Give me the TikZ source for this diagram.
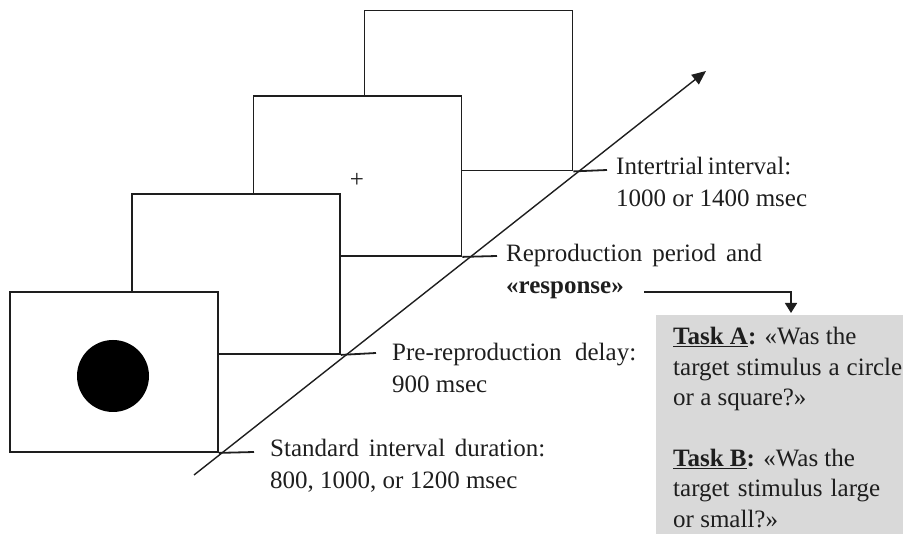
\documentclass[tikz,border=0pt]{standalone}
\usepackage{fontspec}
\setmainfont{Liberation Serif}
\usetikzlibrary{arrows.meta}
\definecolor{boxgray}{RGB}{217,217,217}
\definecolor{ink}{RGB}{30,30,30}
\begin{document}
\begin{tikzpicture}[x=1pt,y=-1pt,
  screen/.style={draw=ink, line width=1.8pt, fill=white, inner sep=0pt,
    minimum width=208pt, minimum height=160pt},
  link/.style={draw=ink, line width=1.8pt},
  lab/.style={anchor=base west, inner sep=0pt, text=ink,
    font=\fontsize{25}{32}\selectfont},
  boxlab/.style={anchor=base west, inner sep=0pt, text=ink,
    font=\fontsize{25}{30.4}\selectfont}]
\useasboundingbox (0,0) rectangle (903,534);
\clip (0,0) rectangle (903,534);

% grey answer box
\node[fill=boxgray, anchor=north west, inner sep=0pt,
  minimum width=260pt, minimum height=230pt] (box) at (656,315) {};

% screens, back to front
\node[screen] (f4) at (468.5,90.5) {};
\coordinate (e4) at (607,170);
\draw[link] (f4.south east) -- (e4);

\node[screen] (f3) at (357.5,176) {};
\coordinate (e3) at (497,256);
\draw[link] (f3.south east) -- (e3);
\node[inner sep=0pt, text=ink, font=\fontsize{25}{30}\selectfont] (plus) at (357,180) {+};

\node[screen] (f2) at (236,274) {};
\coordinate (e2) at (376,353);
\draw[link] (f2.south east) -- (e2);

\node[screen] (f1) at (114,372) {};
\coordinate (e1) at (254,452);
\draw[link] (f1.south east) -- (e1);
\node[circle, fill=black, inner sep=0pt, minimum size=72pt] (dot) at (113,376) {};

% time axis
\coordinate (a0) at (194,475);
\coordinate (a1) at (706,71);
\draw[ink, line width=1.4pt, -{Triangle[length=14pt,width=12pt]}] (a0) -- (a1);

% labels
\node[lab] (lit) at (616,175) {\begin{tabular}[t]{@{}l@{}}\makebox[175pt][s]{Intertrial interval:}\\ 1000 or 1400 msec\end{tabular}};
\node[lab] (lrep) at (506,262) {\begin{tabular}[t]{@{}l@{}}\makebox[256pt][s]{Reproduction period and}\\ \textbf{«response»}\end{tabular}};
\node[lab] (lpre) at (392,361) {\begin{tabular}[t]{@{}l@{}}\makebox[244pt][s]{Pre-reproduction delay:}\\ 900 msec\end{tabular}};
\node[lab] (lstd) at (270,457) {\begin{tabular}[t]{@{}l@{}}\makebox[275pt][s]{Standard interval duration:}\\ 800, 1000, or 1200 msec\end{tabular}};

% response connector
\coordinate (r0) at (644,292);
\coordinate (r1) at (791,313);
\draw[ink, line width=1.6pt, -{Triangle[length=10pt,width=12pt]}] (r0) -| (r1);

% box text
\node[boxlab] (tasks) at (673,345) {\begin{tabular}[t]{@{}l@{}}\underline{\textbf{Task A}}\textbf{:} «Was the\\
\makebox[229pt][s]{target stimulus a circle}\\
or a square?»\\
\\
\underline{\textbf{Task B}}\textbf{:} «Was the\\
\makebox[207pt][s]{target stimulus large}\\
or small?»\end{tabular}};
\end{tikzpicture}
\end{document}
